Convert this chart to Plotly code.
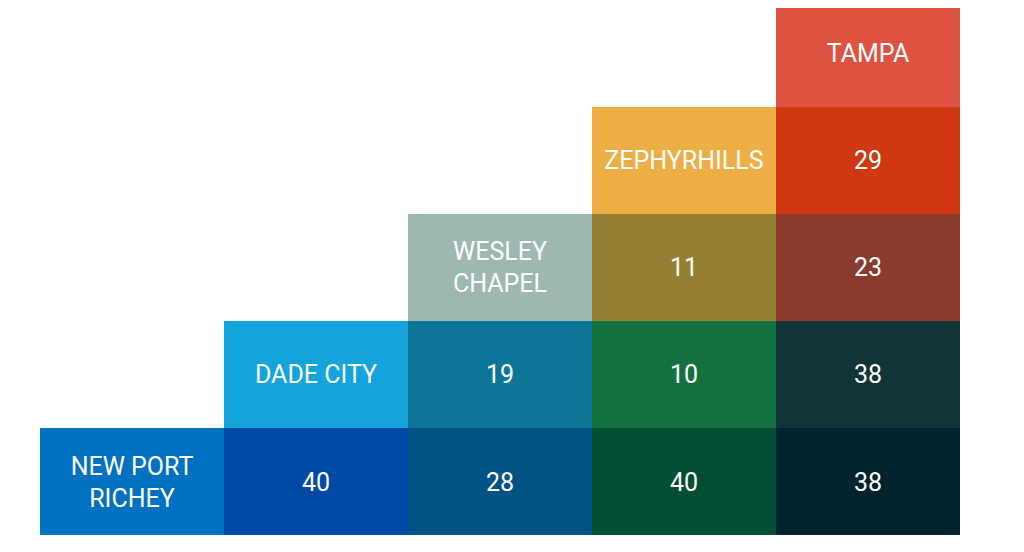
import plotly.graph_objects as go

# Cities, bottom-left to top-right staircase
cities = ["NEW PORT<br>RICHEY", "DADE CITY", "WESLEY<br>CHAPEL", "ZEPHYRHILLS", "TAMPA"]

# grid rows top to bottom, columns left to right (None = empty)
values = [
    [None, None, None, None, None],
    [None, None, None, None, 29],
    [None, None, None, 11, 23],
    [None, None, 19, 10, 38],
    [None, 40, 28, 40, 38],
]

cell_colors = [
    [None, None, None, None, "#DE5240"],
    [None, None, None, "#EEAE46", "#CF3812"],
    [None, None, "#9DB7B1", "#947E32", "#8A3B2E"],
    [None, "#14A4DC", "#0D7698", "#13713F", "#113536"],
    ["#0071C0", "#0049A7", "#015385", "#024E35", "#002330"],
]

n = len(cities)

# build z indices + colorscale from cell colors, labels on diagonal
z, text, palette = [], [], []
for r in range(n):
    zrow, trow = [], []
    for c in range(n):
        col = cell_colors[r][c]
        if col is None:
            zrow.append(None)
            trow.append("")
            continue
        palette.append(col)
        zrow.append(len(palette) - 1)
        if r + c == n - 1:
            trow.append(cities[c])
        else:
            trow.append(str(values[r][c]))
    z.append(zrow)
    text.append(trow)

colorscale = [[i / (len(palette) - 1), col] for i, col in enumerate(palette)]

fig = go.Figure(go.Heatmap(
    z=z,
    text=text,
    texttemplate="%{text}",
    textfont=dict(family="Roboto", size=25, color="white"),
    colorscale=colorscale,
    zmin=0, zmax=len(palette) - 1,
    showscale=False,
    hoverinfo="skip",
    xgap=0, ygap=0,
))

# top row is cut off by the page edge, so start the range a bit inside it
fig.update_layout(
    width=1024, height=552,
    margin=dict(l=32, r=72, t=0, b=25),
    paper_bgcolor="white", plot_bgcolor="white",
)
fig.update_xaxes(visible=False, range=[-0.5, n - 0.5])
fig.update_yaxes(visible=False, range=[n - 0.5, -0.425])

fig.write_html("out.html")
